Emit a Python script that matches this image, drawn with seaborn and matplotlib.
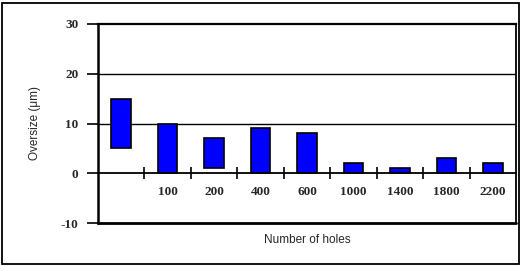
import numpy as np
import pandas as pd
import matplotlib
matplotlib.use("Agg")
import matplotlib.pyplot as plt
import seaborn as sns
from matplotlib.patches import Rectangle
from matplotlib.ticker import FixedLocator

# Data: floating bars from low to high
holes = ["", "100", "200", "400", "600", "1000", "1400", "1800", "2200"]
low = [5, 0, 1, 0, 0, 0, 0, 0, 0]
high = [15, 10, 7, 9, 8, 2, 1, 3, 2]
yticks = [-10, 0, 10, 20, 30]

df = pd.DataFrame({"holes": holes, "low": low, "high": high})
df["span"] = df["high"] - df["low"]

sns.set_theme(style="white")
plt.rcParams["font.family"] = ["Liberation Sans", "DejaVu Sans"]

fig = plt.figure(figsize=(5.22, 2.66), dpi=100)
ax = fig.add_axes([98 / 522, 1 - 223 / 266, (516 - 98) / 522, (223 - 24) / 266])

sns.barplot(data=df, x="holes", y="span", color="#0000ff", saturation=1,
            edgecolor="black", linewidth=1.2, width=0.42, ax=ax)
for p, lo in zip(ax.patches, df["low"]):
    p.set_y(lo)

ax.set_ylim(-10, 30)
ax.set_xlim(-0.5, len(holes) - 0.5)

# y axis
ax.set_yticks(yticks)
ax.set_yticklabels([str(v) for v in yticks], family="Liberation Serif",
                   fontweight="bold", fontsize=9.5)
ax.tick_params(axis="y", direction="out", length=8, width=1.2, color="black", pad=6,
               left=True)
for v in [10, 20]:
    ax.axhline(v, color="black", lw=1.0, zorder=0)
ax.axhline(-10, color="black", lw=2.0, clip_on=False, zorder=3)

# x axis on the zero line
ax.spines["bottom"].set_position(("data", 0))
for s in ["left", "right", "top", "bottom"]:
    ax.spines[s].set_color("black")
    ax.spines[s].set_linewidth(1.3)
ax.spines["left"].set_linewidth(1.8)
ax.spines["top"].set_linewidth(1.6)
ax.set_xticks(range(len(holes)))
ax.set_xticklabels(holes, family="Liberation Serif", fontweight="bold", fontsize=9.5)
ax.tick_params(axis="x", which="major", length=0, pad=9, bottom=True)
ax.xaxis.set_minor_locator(FixedLocator(np.arange(0.5, len(holes) - 1, 1.0)))
ax.tick_params(axis="x", which="minor", direction="inout", length=9, width=1.2,
               color="black", bottom=True)

ax.set_xlabel("")
ax.set_ylabel("Oversize (μm)", fontsize=8.5, labelpad=14)
fig.text((98 + 516) / 2 / 522, 1 - 240 / 266, "Number of holes", ha="center",
         va="center", fontsize=8.5)

# outer frame
fig.patches.append(Rectangle((2 / 522, 2 / 266), 517 / 522, 261 / 266,
                             transform=fig.transFigure, fill=False,
                             edgecolor="black", lw=1.3))

fig.savefig("out.png", dpi=100)
